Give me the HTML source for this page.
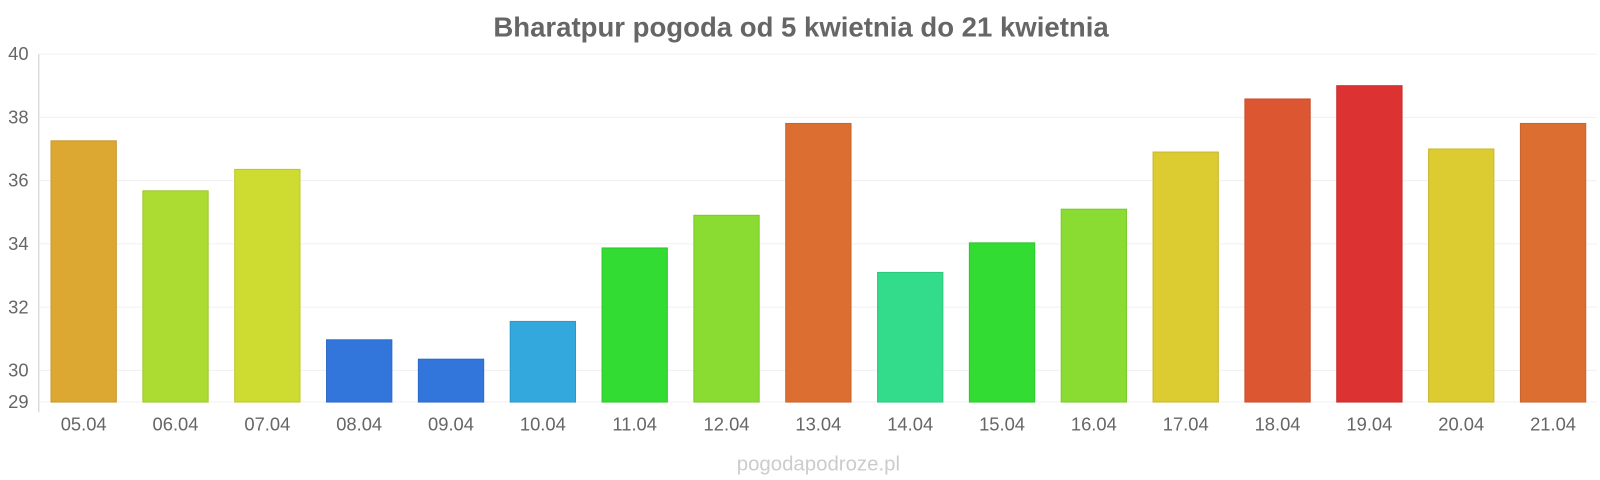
<!DOCTYPE html>
<html><head><meta charset="utf-8"><style>
body{margin:0;background:#fff;}
svg{display:block;font-family:"Liberation Sans",sans-serif;}
</style></head><body>
<svg width="1600" height="480" viewBox="0 0 1568 470.4" xmlns="http://www.w3.org/2000/svg">
<text x="785" y="36" text-anchor="middle" font-size="27" font-weight="bold" fill="#666">Bharatpur pogoda od 5 kwietnia do 21 kwietnia</text>
<g stroke="#f0f0f0" stroke-width="1">
<line x1="38" x2="1565" y1="53" y2="53"/><line x1="38" x2="1565" y1="115" y2="115"/><line x1="38" x2="1565" y1="177" y2="177"/><line x1="38" x2="1565" y1="239" y2="239"/><line x1="38" x2="1565" y1="301" y2="301"/><line x1="38" x2="1565" y1="363" y2="363"/><line x1="38" x2="1565" y1="394" y2="394"/>
</g>
<line x1="38" x2="38" y1="53" y2="404" stroke="#ccc"/>
<g font-size="18" fill="#666" text-anchor="end">
<text x="28" y="59">40</text><text x="28" y="121">38</text><text x="28" y="183">36</text><text x="28" y="245">34</text><text x="28" y="307">32</text><text x="28" y="369">30</text><text x="28" y="400">29</text>
</g>
<g stroke-width="1">
<rect x="50" y="138" width="64" height="256" fill="#dca832" stroke="#c9982c"/>
<rect x="140" y="187" width="64" height="207" fill="#acdc32" stroke="#9cc82c"/>
<rect x="230" y="166" width="64" height="228" fill="#cedc32" stroke="#bcc82c"/>
<rect x="320" y="333" width="64" height="61" fill="#3276dc" stroke="#2c6ac8"/>
<rect x="410" y="352" width="64" height="42" fill="#3276dc" stroke="#2c6ac8"/>
<rect x="500" y="315" width="64" height="79" fill="#32a8dc" stroke="#2c98c8"/>
<rect x="590" y="243" width="64" height="151" fill="#32dc32" stroke="#2cc82c"/>
<rect x="680" y="211" width="64" height="183" fill="#8adc32" stroke="#7cc82c"/>
<rect x="770" y="121" width="64" height="273" fill="#dc6e32" stroke="#c8642c"/>
<rect x="860" y="267" width="64" height="127" fill="#32dc8a" stroke="#2cc87c"/>
<rect x="950" y="238" width="64" height="156" fill="#32dc32" stroke="#2cc82c"/>
<rect x="1040" y="205" width="64" height="189" fill="#8adc32" stroke="#7cc82c"/>
<rect x="1130" y="149" width="64" height="245" fill="#dccc32" stroke="#c8b82c"/>
<rect x="1220" y="97" width="64" height="297" fill="#dc5632" stroke="#c84e2c"/>
<rect x="1310" y="84" width="64" height="310" fill="#dc3232" stroke="#c82c2c"/>
<rect x="1400" y="146" width="64" height="248" fill="#dccc32" stroke="#c8b82c"/>
<rect x="1490" y="121" width="64" height="273" fill="#dc6e32" stroke="#c8642c"/>
</g>
<g font-size="18" fill="#666" text-anchor="middle">
<text x="82" y="422">05.04</text><text x="172" y="422">06.04</text><text x="262" y="422">07.04</text><text x="352" y="422">08.04</text><text x="442" y="422">09.04</text><text x="532" y="422">10.04</text><text x="622" y="422">11.04</text><text x="712" y="422">12.04</text><text x="802" y="422">13.04</text><text x="892" y="422">14.04</text><text x="982" y="422">15.04</text><text x="1072" y="422">16.04</text><text x="1162" y="422">17.04</text><text x="1252" y="422">18.04</text><text x="1342" y="422">19.04</text><text x="1432" y="422">20.04</text><text x="1522" y="422">21.04</text>
</g>
<text x="802" y="461" text-anchor="middle" font-size="20" fill="#ccc">pogodapodroze.pl</text>
</svg>
</body></html>
